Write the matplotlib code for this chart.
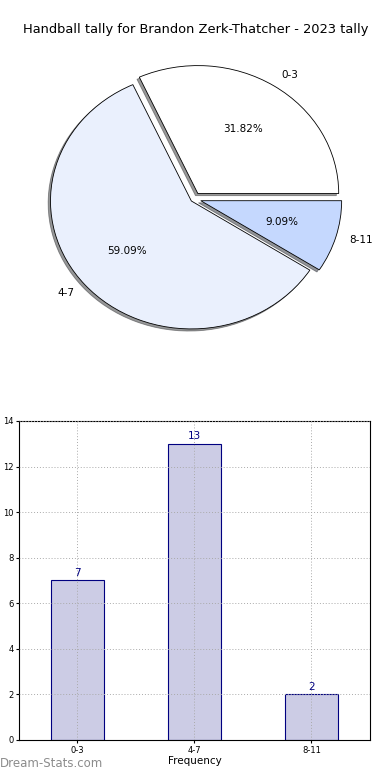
import matplotlib
matplotlib.use("Agg")
import matplotlib.pyplot as plt

categories = ["0-3", "4-7", "8-11"]
counts = [7, 13, 2]
pie_colors = ["#ffffff", "#eaf0fd", "#c5d8fe"]

fig = plt.figure(figsize=(3.9, 7.8), dpi=100)

fig.text(0.503, 0.962, "Handball tally for Brandon Zerk-Thatcher - 2023 tally",
         ha="center", va="center", fontsize=9.4)

# pie
ax1 = fig.add_axes([0.046, 0.54, 0.903, 0.41])
ax1.pie(counts, labels=categories, colors=pie_colors, autopct="%.2f%%",
        explode=[0.05, 0.025, 0.05],
        shadow={"ox": -0.012, "oy": -0.012, "shade": 0.8},
        startangle=0, labeldistance=1.1, pctdistance=0.6,
        wedgeprops={"edgecolor": "black", "linewidth": 0.6},
        textprops={"fontsize": 7.5})
ax1.set_aspect("auto")
ax1.set_xlim(-1.25, 1.25)
ax1.set_ylim(-1.25, 1.25)

# bars
ax2 = fig.add_axes([0.0487, 0.0513, 0.9, 0.409])
x = range(len(categories))
bars = ax2.bar(x, counts, width=0.45, color="#ccccE5", edgecolor="navy", linewidth=0.8)
for b, v in zip(bars, counts):
    ax2.text(b.get_x() + b.get_width() / 2, v + 0.1, str(v), ha="center", va="bottom",
             color="navy", fontsize=7.5)
ax2.set_xlim(-0.5, 2.5)
ax2.set_ylim(0, 14)
ax2.set_xticks(list(x))
ax2.set_xticklabels(categories, fontsize=6)
ax2.set_yticks(range(0, 15, 2))
ax2.tick_params(axis="y", labelsize=6)
ax2.tick_params(length=2, pad=2)
ax2.grid(True, linestyle=(0, (1, 2)), color="#aaaaaa", linewidth=0.7)
ax2.set_axisbelow(False)
ax2.set_xlabel("Frequency", fontsize=7.5, labelpad=1)
ax2.set_ylabel("Occurrences", fontsize=7.5)
ax2.yaxis.set_label_coords(-0.06, 0.5)

fig.text(0.0, 0.013, "Dream-Stats.com", color="#8c8c8c", fontsize=8.5,
         ha="left", va="bottom")

fig.savefig("out.png", dpi=100)
